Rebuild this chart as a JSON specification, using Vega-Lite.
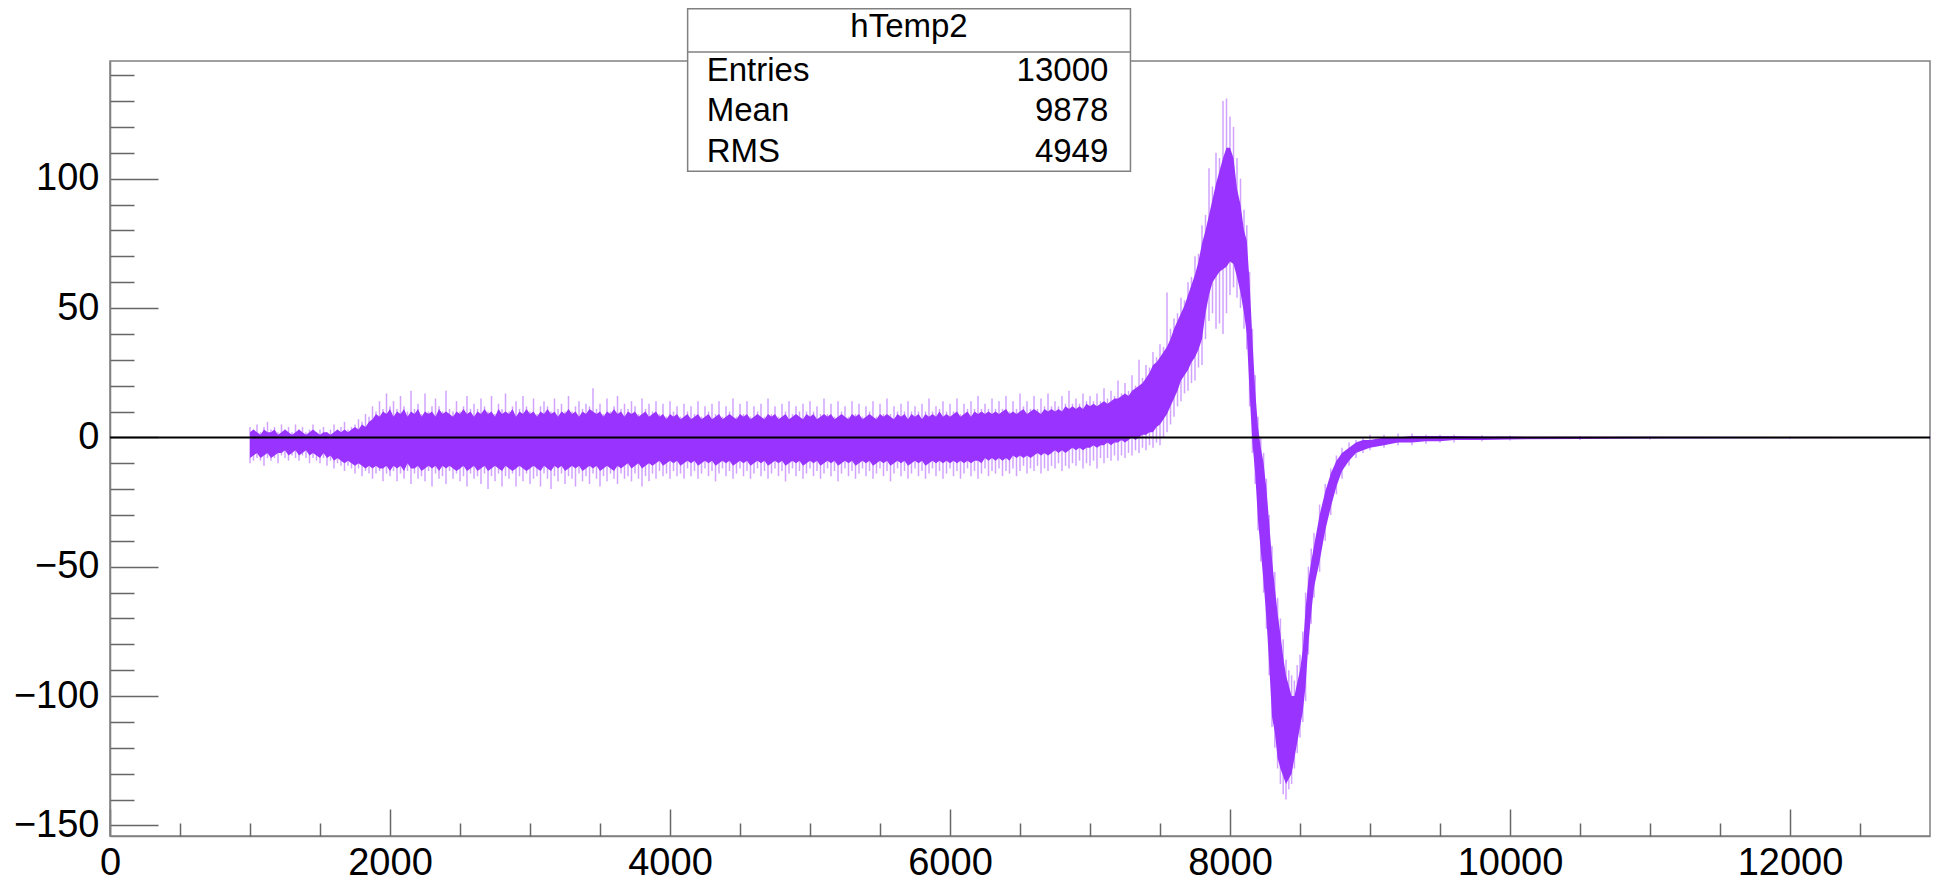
{
  "$schema": "https://vega.github.io/schema/vega-lite/v6.json",
  "width": 1820,
  "height": 775,
  "autosize": {"type": "none"},
  "padding": {"left": 110, "top": 61, "right": 11, "bottom": 46},
  "background": "white",
  "config": {
    "font": "Liberation Sans",
    "view": {"stroke": "#808080", "strokeWidth": 1.5},
    "axis": {"domainColor": "#808080", "domainWidth": 1.5, "tickColor": "#666666", "tickWidth": 1.5, "labelColor": "#000000", "labelFont": "Liberation Sans", "labelFontSize": 38, "grid": false, "labelFlush": false, "labelOverlap": false, "labelBound": false}
  },
  "resolve": {"axis": {"x": "independent", "y": "independent"}},
  "datasets": {
    "hist": [
      {"x":1000,"lo2":-10,"lo":-8,"hi":2,"hi2":4},
      {"x":1025,"lo2":-9,"lo":-7,"hi":3,"hi2":3},
      {"x":1050,"lo2":-8,"lo":-6,"hi":2,"hi2":5},
      {"x":1075,"lo2":-9,"lo":-8,"hi":1,"hi2":2},
      {"x":1100,"lo2":-11,"lo":-7,"hi":3,"hi2":4},
      {"x":1125,"lo2":-8,"lo":-6,"hi":2,"hi2":6},
      {"x":1150,"lo2":-9,"lo":-8,"hi":2,"hi2":3},
      {"x":1175,"lo2":-8,"lo":-7,"hi":3,"hi2":4},
      {"x":1200,"lo2":-10,"lo":-6,"hi":1,"hi2":2},
      {"x":1225,"lo2":-7,"lo":-6,"hi":2,"hi2":5},
      {"x":1250,"lo2":-8,"lo":-5,"hi":3,"hi2":3},
      {"x":1275,"lo2":-9,"lo":-7,"hi":2,"hi2":4},
      {"x":1300,"lo2":-7,"lo":-6,"hi":1,"hi2":2},
      {"x":1325,"lo2":-8,"lo":-5,"hi":2,"hi2":5},
      {"x":1350,"lo2":-9,"lo":-7,"hi":3,"hi2":3},
      {"x":1375,"lo2":-7,"lo":-6,"hi":2,"hi2":4},
      {"x":1400,"lo2":-8,"lo":-5,"hi":1,"hi2":2},
      {"x":1425,"lo2":-10,"lo":-7,"hi":2,"hi2":3},
      {"x":1450,"lo2":-8,"lo":-6,"hi":3,"hi2":5},
      {"x":1475,"lo2":-9,"lo":-7,"hi":2,"hi2":2},
      {"x":1500,"lo2":-10,"lo":-8,"hi":1,"hi2":3},
      {"x":1525,"lo2":-8,"lo":-6,"hi":2,"hi2":4},
      {"x":1550,"lo2":-11,"lo":-8,"hi":2,"hi2":2},
      {"x":1575,"lo2":-9,"lo":-7,"hi":1,"hi2":3},
      {"x":1600,"lo2":-12,"lo":-9,"hi":2,"hi2":5},
      {"x":1625,"lo2":-10,"lo":-8,"hi":3,"hi2":3},
      {"x":1650,"lo2":-11,"lo":-9,"hi":2,"hi2":4},
      {"x":1675,"lo2":-13,"lo":-10,"hi":3,"hi2":6},
      {"x":1700,"lo2":-11,"lo":-9,"hi":2,"hi2":3},
      {"x":1725,"lo2":-12,"lo":-10,"hi":3,"hi2":4},
      {"x":1750,"lo2":-14,"lo":-11,"hi":4,"hi2":5},
      {"x":1775,"lo2":-12,"lo":-10,"hi":3,"hi2":7},
      {"x":1800,"lo2":-15,"lo":-11,"hi":5,"hi2":6},
      {"x":1825,"lo2":-13,"lo":-12,"hi":4,"hi2":9},
      {"x":1850,"lo2":-14,"lo":-11,"hi":6,"hi2":8},
      {"x":1875,"lo2":-16,"lo":-12,"hi":7,"hi2":12},
      {"x":1900,"lo2":-14,"lo":-11,"hi":9,"hi2":10},
      {"x":1925,"lo2":-13,"lo":-12,"hi":8,"hi2":14},
      {"x":1950,"lo2":-17,"lo":-12,"hi":10,"hi2":11},
      {"x":1975,"lo2":-14,"lo":-11,"hi":9,"hi2":17},
      {"x":2000,"lo2":-15,"lo":-13,"hi":11,"hi2":12},
      {"x":2025,"lo2":-13,"lo":-11,"hi":8,"hi2":14},
      {"x":2050,"lo2":-17,"lo":-12,"hi":10,"hi2":11},
      {"x":2075,"lo2":-14,"lo":-11,"hi":9,"hi2":16},
      {"x":2100,"lo2":-16,"lo":-13,"hi":11,"hi2":12},
      {"x":2125,"lo2":-13,"lo":-10,"hi":8,"hi2":10},
      {"x":2150,"lo2":-18,"lo":-12,"hi":10,"hi2":18},
      {"x":2175,"lo2":-14,"lo":-12,"hi":9,"hi2":11},
      {"x":2200,"lo2":-16,"lo":-11,"hi":11,"hi2":13},
      {"x":2225,"lo2":-15,"lo":-13,"hi":8,"hi2":9},
      {"x":2250,"lo2":-17,"lo":-12,"hi":10,"hi2":17},
      {"x":2275,"lo2":-13,"lo":-11,"hi":9,"hi2":10},
      {"x":2300,"lo2":-19,"lo":-12,"hi":10,"hi2":12},
      {"x":2325,"lo2":-14,"lo":-11,"hi":8,"hi2":15},
      {"x":2350,"lo2":-16,"lo":-13,"hi":11,"hi2":12},
      {"x":2375,"lo2":-15,"lo":-11,"hi":9,"hi2":10},
      {"x":2400,"lo2":-18,"lo":-12,"hi":10,"hi2":18},
      {"x":2425,"lo2":-13,"lo":-11,"hi":9,"hi2":11},
      {"x":2450,"lo2":-16,"lo":-12,"hi":8,"hi2":10},
      {"x":2475,"lo2":-14,"lo":-13,"hi":10,"hi2":14},
      {"x":2500,"lo2":-17,"lo":-12,"hi":9,"hi2":10},
      {"x":2525,"lo2":-15,"lo":-11,"hi":11,"hi2":12},
      {"x":2550,"lo2":-19,"lo":-13,"hi":9,"hi2":16},
      {"x":2575,"lo2":-14,"lo":-12,"hi":10,"hi2":11},
      {"x":2600,"lo2":-16,"lo":-11,"hi":8,"hi2":13},
      {"x":2625,"lo2":-15,"lo":-13,"hi":10,"hi2":11},
      {"x":2650,"lo2":-18,"lo":-12,"hi":9,"hi2":15},
      {"x":2675,"lo2":-14,"lo":-11,"hi":11,"hi2":12},
      {"x":2700,"lo2":-20,"lo":-13,"hi":9,"hi2":10},
      {"x":2725,"lo2":-15,"lo":-12,"hi":10,"hi2":16},
      {"x":2750,"lo2":-17,"lo":-11,"hi":8,"hi2":9},
      {"x":2775,"lo2":-14,"lo":-12,"hi":11,"hi2":13},
      {"x":2800,"lo2":-19,"lo":-13,"hi":9,"hi2":11},
      {"x":2825,"lo2":-15,"lo":-11,"hi":10,"hi2":17},
      {"x":2850,"lo2":-16,"lo":-12,"hi":9,"hi2":10},
      {"x":2875,"lo2":-14,"lo":-13,"hi":11,"hi2":12},
      {"x":2900,"lo2":-19,"lo":-12,"hi":8,"hi2":14},
      {"x":2925,"lo2":-15,"lo":-11,"hi":10,"hi2":11},
      {"x":2950,"lo2":-17,"lo":-12,"hi":9,"hi2":16},
      {"x":2975,"lo2":-14,"lo":-13,"hi":11,"hi2":12},
      {"x":3000,"lo2":-18,"lo":-12,"hi":9,"hi2":10},
      {"x":3025,"lo2":-16,"lo":-11,"hi":10,"hi2":15},
      {"x":3050,"lo2":-15,"lo":-12,"hi":8,"hi2":9},
      {"x":3075,"lo2":-19,"lo":-13,"hi":10,"hi2":12},
      {"x":3100,"lo2":-14,"lo":-11,"hi":9,"hi2":14},
      {"x":3125,"lo2":-16,"lo":-12,"hi":11,"hi2":12},
      {"x":3150,"lo2":-20,"lo":-13,"hi":9,"hi2":10},
      {"x":3175,"lo2":-15,"lo":-11,"hi":10,"hi2":15},
      {"x":3200,"lo2":-17,"lo":-12,"hi":8,"hi2":11},
      {"x":3225,"lo2":-14,"lo":-11,"hi":10,"hi2":13},
      {"x":3250,"lo2":-18,"lo":-13,"hi":9,"hi2":10},
      {"x":3275,"lo2":-15,"lo":-12,"hi":11,"hi2":16},
      {"x":3300,"lo2":-16,"lo":-11,"hi":9,"hi2":10},
      {"x":3325,"lo2":-19,"lo":-12,"hi":10,"hi2":12},
      {"x":3350,"lo2":-14,"lo":-11,"hi":8,"hi2":14},
      {"x":3375,"lo2":-17,"lo":-13,"hi":10,"hi2":11},
      {"x":3400,"lo2":-15,"lo":-12,"hi":9,"hi2":13},
      {"x":3425,"lo2":-18,"lo":-11,"hi":11,"hi2":12},
      {"x":3450,"lo2":-14,"lo":-12,"hi":10,"hi2":19},
      {"x":3475,"lo2":-16,"lo":-11,"hi":9,"hi2":11},
      {"x":3500,"lo2":-19,"lo":-13,"hi":10,"hi2":13},
      {"x":3525,"lo2":-15,"lo":-12,"hi":8,"hi2":9},
      {"x":3550,"lo2":-17,"lo":-11,"hi":10,"hi2":15},
      {"x":3575,"lo2":-14,"lo":-12,"hi":9,"hi2":10},
      {"x":3600,"lo2":-16,"lo":-13,"hi":11,"hi2":12},
      {"x":3625,"lo2":-18,"lo":-11,"hi":9,"hi2":16},
      {"x":3650,"lo2":-14,"lo":-12,"hi":10,"hi2":11},
      {"x":3675,"lo2":-16,"lo":-11,"hi":8,"hi2":13},
      {"x":3700,"lo2":-15,"lo":-10,"hi":10,"hi2":11},
      {"x":3725,"lo2":-17,"lo":-12,"hi":9,"hi2":14},
      {"x":3750,"lo2":-14,"lo":-11,"hi":10,"hi2":12},
      {"x":3775,"lo2":-16,"lo":-10,"hi":8,"hi2":9},
      {"x":3800,"lo2":-19,"lo":-12,"hi":9,"hi2":15},
      {"x":3825,"lo2":-15,"lo":-11,"hi":10,"hi2":11},
      {"x":3850,"lo2":-17,"lo":-10,"hi":8,"hi2":13},
      {"x":3875,"lo2":-14,"lo":-11,"hi":9,"hi2":10},
      {"x":3900,"lo2":-16,"lo":-10,"hi":10,"hi2":14},
      {"x":3925,"lo2":-13,"lo":-9,"hi":8,"hi2":9},
      {"x":3950,"lo2":-15,"lo":-11,"hi":9,"hi2":13},
      {"x":3975,"lo2":-14,"lo":-10,"hi":7,"hi2":8},
      {"x":4000,"lo2":-16,"lo":-9,"hi":9,"hi2":14},
      {"x":4025,"lo2":-13,"lo":-10,"hi":8,"hi2":10},
      {"x":4050,"lo2":-15,"lo":-9,"hi":9,"hi2":12},
      {"x":4075,"lo2":-14,"lo":-11,"hi":7,"hi2":8},
      {"x":4100,"lo2":-16,"lo":-10,"hi":8,"hi2":13},
      {"x":4125,"lo2":-12,"lo":-9,"hi":9,"hi2":10},
      {"x":4150,"lo2":-15,"lo":-10,"hi":7,"hi2":12},
      {"x":4175,"lo2":-13,"lo":-9,"hi":8,"hi2":9},
      {"x":4200,"lo2":-16,"lo":-11,"hi":9,"hi2":14},
      {"x":4225,"lo2":-14,"lo":-10,"hi":7,"hi2":8},
      {"x":4250,"lo2":-12,"lo":-9,"hi":8,"hi2":12},
      {"x":4275,"lo2":-15,"lo":-10,"hi":9,"hi2":10},
      {"x":4300,"lo2":-13,"lo":-9,"hi":7,"hi2":13},
      {"x":4325,"lo2":-17,"lo":-11,"hi":8,"hi2":9},
      {"x":4350,"lo2":-14,"lo":-10,"hi":9,"hi2":14},
      {"x":4375,"lo2":-12,"lo":-9,"hi":7,"hi2":8},
      {"x":4400,"lo2":-15,"lo":-10,"hi":8,"hi2":12},
      {"x":4425,"lo2":-13,"lo":-9,"hi":9,"hi2":10},
      {"x":4450,"lo2":-16,"lo":-11,"hi":8,"hi2":15},
      {"x":4475,"lo2":-14,"lo":-10,"hi":7,"hi2":8},
      {"x":4500,"lo2":-12,"lo":-9,"hi":9,"hi2":13},
      {"x":4525,"lo2":-15,"lo":-10,"hi":8,"hi2":9},
      {"x":4550,"lo2":-13,"lo":-9,"hi":9,"hi2":14},
      {"x":4575,"lo2":-16,"lo":-11,"hi":7,"hi2":8},
      {"x":4600,"lo2":-14,"lo":-10,"hi":8,"hi2":12},
      {"x":4625,"lo2":-12,"lo":-9,"hi":9,"hi2":10},
      {"x":4650,"lo2":-15,"lo":-10,"hi":8,"hi2":13},
      {"x":4675,"lo2":-13,"lo":-9,"hi":7,"hi2":8},
      {"x":4700,"lo2":-16,"lo":-11,"hi":9,"hi2":15},
      {"x":4725,"lo2":-14,"lo":-10,"hi":8,"hi2":9},
      {"x":4750,"lo2":-12,"lo":-9,"hi":9,"hi2":12},
      {"x":4775,"lo2":-15,"lo":-10,"hi":7,"hi2":8},
      {"x":4800,"lo2":-13,"lo":-9,"hi":8,"hi2":13},
      {"x":4825,"lo2":-17,"lo":-11,"hi":9,"hi2":10},
      {"x":4850,"lo2":-14,"lo":-10,"hi":7,"hi2":14},
      {"x":4875,"lo2":-12,"lo":-9,"hi":8,"hi2":9},
      {"x":4900,"lo2":-15,"lo":-10,"hi":9,"hi2":12},
      {"x":4925,"lo2":-13,"lo":-9,"hi":8,"hi2":10},
      {"x":4950,"lo2":-16,"lo":-11,"hi":7,"hi2":13},
      {"x":4975,"lo2":-14,"lo":-10,"hi":9,"hi2":10},
      {"x":5000,"lo2":-12,"lo":-9,"hi":8,"hi2":14},
      {"x":5025,"lo2":-15,"lo":-10,"hi":9,"hi2":10},
      {"x":5050,"lo2":-13,"lo":-9,"hi":7,"hi2":12},
      {"x":5075,"lo2":-16,"lo":-11,"hi":8,"hi2":9},
      {"x":5100,"lo2":-14,"lo":-10,"hi":9,"hi2":15},
      {"x":5125,"lo2":-12,"lo":-9,"hi":8,"hi2":9},
      {"x":5150,"lo2":-15,"lo":-10,"hi":9,"hi2":13},
      {"x":5175,"lo2":-13,"lo":-9,"hi":7,"hi2":8},
      {"x":5200,"lo2":-17,"lo":-11,"hi":8,"hi2":14},
      {"x":5225,"lo2":-14,"lo":-10,"hi":9,"hi2":10},
      {"x":5250,"lo2":-12,"lo":-9,"hi":8,"hi2":12},
      {"x":5275,"lo2":-15,"lo":-10,"hi":7,"hi2":8},
      {"x":5300,"lo2":-13,"lo":-9,"hi":9,"hi2":14},
      {"x":5325,"lo2":-16,"lo":-11,"hi":8,"hi2":9},
      {"x":5350,"lo2":-14,"lo":-10,"hi":9,"hi2":13},
      {"x":5375,"lo2":-12,"lo":-9,"hi":7,"hi2":8},
      {"x":5400,"lo2":-15,"lo":-10,"hi":8,"hi2":12},
      {"x":5425,"lo2":-13,"lo":-9,"hi":9,"hi2":10},
      {"x":5450,"lo2":-16,"lo":-11,"hi":8,"hi2":14},
      {"x":5475,"lo2":-14,"lo":-10,"hi":7,"hi2":8},
      {"x":5500,"lo2":-12,"lo":-9,"hi":9,"hi2":13},
      {"x":5525,"lo2":-15,"lo":-10,"hi":8,"hi2":9},
      {"x":5550,"lo2":-13,"lo":-9,"hi":9,"hi2":15},
      {"x":5575,"lo2":-17,"lo":-11,"hi":8,"hi2":9},
      {"x":5600,"lo2":-14,"lo":-10,"hi":7,"hi2":12},
      {"x":5625,"lo2":-12,"lo":-9,"hi":9,"hi2":10},
      {"x":5650,"lo2":-15,"lo":-10,"hi":8,"hi2":13},
      {"x":5675,"lo2":-13,"lo":-9,"hi":9,"hi2":10},
      {"x":5700,"lo2":-16,"lo":-11,"hi":7,"hi2":14},
      {"x":5725,"lo2":-14,"lo":-10,"hi":9,"hi2":10},
      {"x":5750,"lo2":-12,"lo":-9,"hi":8,"hi2":12},
      {"x":5775,"lo2":-15,"lo":-10,"hi":9,"hi2":10},
      {"x":5800,"lo2":-13,"lo":-9,"hi":7,"hi2":13},
      {"x":5825,"lo2":-16,"lo":-11,"hi":9,"hi2":10},
      {"x":5850,"lo2":-14,"lo":-10,"hi":8,"hi2":15},
      {"x":5875,"lo2":-12,"lo":-9,"hi":9,"hi2":10},
      {"x":5900,"lo2":-15,"lo":-10,"hi":8,"hi2":12},
      {"x":5925,"lo2":-13,"lo":-9,"hi":10,"hi2":11},
      {"x":5950,"lo2":-16,"lo":-10,"hi":8,"hi2":14},
      {"x":5975,"lo2":-14,"lo":-9,"hi":9,"hi2":10},
      {"x":6000,"lo2":-12,"lo":-10,"hi":8,"hi2":13},
      {"x":6025,"lo2":-15,"lo":-9,"hi":9,"hi2":10},
      {"x":6050,"lo2":-13,"lo":-10,"hi":10,"hi2":15},
      {"x":6075,"lo2":-16,"lo":-9,"hi":8,"hi2":9},
      {"x":6100,"lo2":-14,"lo":-10,"hi":9,"hi2":13},
      {"x":6125,"lo2":-12,"lo":-9,"hi":10,"hi2":11},
      {"x":6150,"lo2":-15,"lo":-10,"hi":8,"hi2":14},
      {"x":6175,"lo2":-13,"lo":-9,"hi":10,"hi2":11},
      {"x":6200,"lo2":-16,"lo":-9,"hi":9,"hi2":16},
      {"x":6225,"lo2":-14,"lo":-10,"hi":10,"hi2":11},
      {"x":6250,"lo2":-12,"lo":-8,"hi":9,"hi2":13},
      {"x":6275,"lo2":-15,"lo":-9,"hi":10,"hi2":11},
      {"x":6300,"lo2":-13,"lo":-8,"hi":9,"hi2":15},
      {"x":6325,"lo2":-14,"lo":-9,"hi":10,"hi2":11},
      {"x":6350,"lo2":-12,"lo":-8,"hi":9,"hi2":14},
      {"x":6375,"lo2":-15,"lo":-9,"hi":10,"hi2":11},
      {"x":6400,"lo2":-13,"lo":-8,"hi":11,"hi2":16},
      {"x":6425,"lo2":-14,"lo":-9,"hi":9,"hi2":10},
      {"x":6450,"lo2":-12,"lo":-7,"hi":10,"hi2":14},
      {"x":6475,"lo2":-15,"lo":-8,"hi":9,"hi2":11},
      {"x":6500,"lo2":-13,"lo":-7,"hi":10,"hi2":17},
      {"x":6525,"lo2":-11,"lo":-8,"hi":11,"hi2":12},
      {"x":6550,"lo2":-14,"lo":-7,"hi":9,"hi2":14},
      {"x":6575,"lo2":-12,"lo":-8,"hi":10,"hi2":11},
      {"x":6600,"lo2":-13,"lo":-7,"hi":11,"hi2":16},
      {"x":6625,"lo2":-11,"lo":-6,"hi":10,"hi2":11},
      {"x":6650,"lo2":-14,"lo":-7,"hi":9,"hi2":15},
      {"x":6675,"lo2":-12,"lo":-6,"hi":11,"hi2":12},
      {"x":6700,"lo2":-13,"lo":-7,"hi":10,"hi2":17},
      {"x":6725,"lo2":-11,"lo":-6,"hi":11,"hi2":12},
      {"x":6750,"lo2":-12,"lo":-5,"hi":10,"hi2":14},
      {"x":6775,"lo2":-10,"lo":-6,"hi":11,"hi2":12},
      {"x":6800,"lo2":-13,"lo":-5,"hi":10,"hi2":16},
      {"x":6825,"lo2":-11,"lo":-6,"hi":12,"hi2":13},
      {"x":6850,"lo2":-12,"lo":-5,"hi":11,"hi2":18},
      {"x":6875,"lo2":-10,"lo":-4,"hi":12,"hi2":13},
      {"x":6900,"lo2":-11,"lo":-5,"hi":11,"hi2":15},
      {"x":6925,"lo2":-9,"lo":-4,"hi":12,"hi2":13},
      {"x":6950,"lo2":-12,"lo":-5,"hi":11,"hi2":17},
      {"x":6975,"lo2":-10,"lo":-4,"hi":13,"hi2":14},
      {"x":7000,"lo2":-11,"lo":-4,"hi":12,"hi2":16},
      {"x":7025,"lo2":-9,"lo":-3,"hi":13,"hi2":14},
      {"x":7050,"lo2":-12,"lo":-4,"hi":12,"hi2":17},
      {"x":7075,"lo2":-8,"lo":-3,"hi":13,"hi2":14},
      {"x":7100,"lo2":-10,"lo":-3,"hi":14,"hi2":19},
      {"x":7125,"lo2":-8,"lo":-2,"hi":13,"hi2":15},
      {"x":7150,"lo2":-9,"lo":-3,"hi":14,"hi2":18},
      {"x":7175,"lo2":-7,"lo":-2,"hi":15,"hi2":16},
      {"x":7200,"lo2":-9,"lo":-2,"hi":15,"hi2":22},
      {"x":7225,"lo2":-7,"lo":-1,"hi":16,"hi2":17},
      {"x":7250,"lo2":-8,"lo":-2,"hi":17,"hi2":21},
      {"x":7275,"lo2":-6,"lo":-1,"hi":16,"hi2":18},
      {"x":7300,"lo2":-7,"lo":0,"hi":18,"hi2":24},
      {"x":7325,"lo2":-5,"lo":-1,"hi":19,"hi2":20},
      {"x":7350,"lo2":-6,"lo":0,"hi":20,"hi2":30},
      {"x":7375,"lo2":-4,"lo":1,"hi":21,"hi2":23},
      {"x":7400,"lo2":-5,"lo":1,"hi":23,"hi2":28},
      {"x":7425,"lo2":-3,"lo":2,"hi":25,"hi2":27},
      {"x":7450,"lo2":-4,"lo":2,"hi":28,"hi2":33},
      {"x":7475,"lo2":-2,"lo":4,"hi":29,"hi2":31},
      {"x":7500,"lo2":-3,"lo":5,"hi":31,"hi2":36},
      {"x":7525,"lo2":0,"lo":7,"hi":33,"hi2":35},
      {"x":7550,"lo2":2,"lo":9,"hi":35,"hi2":56},
      {"x":7575,"lo2":5,"lo":12,"hi":38,"hi2":42},
      {"x":7600,"lo2":8,"lo":15,"hi":42,"hi2":46},
      {"x":7625,"lo2":12,"lo":18,"hi":45,"hi2":48},
      {"x":7650,"lo2":14,"lo":22,"hi":48,"hi2":54},
      {"x":7675,"lo2":17,"lo":24,"hi":51,"hi2":53},
      {"x":7700,"lo2":18,"lo":26,"hi":55,"hi2":60},
      {"x":7725,"lo2":21,"lo":29,"hi":59,"hi2":62},
      {"x":7750,"lo2":22,"lo":31,"hi":63,"hi2":70},
      {"x":7775,"lo2":27,"lo":34,"hi":68,"hi2":71},
      {"x":7800,"lo2":28,"lo":38,"hi":75,"hi2":82},
      {"x":7825,"lo2":38,"lo":48,"hi":80,"hi2":86},
      {"x":7850,"lo2":45,"lo":55,"hi":86,"hi2":104},
      {"x":7875,"lo2":48,"lo":60,"hi":92,"hi2":97},
      {"x":7900,"lo2":42,"lo":62,"hi":98,"hi2":110},
      {"x":7925,"lo2":44,"lo":64,"hi":103,"hi2":108},
      {"x":7950,"lo2":40,"lo":65,"hi":108,"hi2":130},
      {"x":7975,"lo2":48,"lo":66,"hi":112,"hi2":131},
      {"x":8000,"lo2":55,"lo":68,"hi":112,"hi2":124},
      {"x":8025,"lo2":58,"lo":67,"hi":108,"hi2":120},
      {"x":8050,"lo2":54,"lo":62,"hi":96,"hi2":108},
      {"x":8075,"lo2":50,"lo":56,"hi":90,"hi2":100},
      {"x":8100,"lo2":42,"lo":48,"hi":80,"hi2":88},
      {"x":8120,"lo2":34,"lo":40,"hi":76,"hi2":82},
      {"x":8140,"lo2":12,"lo":17,"hi":60,"hi2":64},
      {"x":8160,"lo2":-6,"lo":-2,"hi":38,"hi2":42},
      {"x":8180,"lo2":-18,"lo":-14,"hi":18,"hi2":24},
      {"x":8200,"lo2":-36,"lo":-32,"hi":4,"hi2":8},
      {"x":8220,"lo2":-48,"lo":-44,"hi":-4,"hi2":0},
      {"x":8240,"lo2":-60,"lo":-56,"hi":-10,"hi2":-6},
      {"x":8260,"lo2":-74,"lo":-70,"hi":-20,"hi2":-16},
      {"x":8280,"lo2":-92,"lo":-88,"hi":-33,"hi2":-30},
      {"x":8300,"lo2":-112,"lo":-108,"hi":-47,"hi2":-42},
      {"x":8320,"lo2":-120,"lo":-114,"hi":-58,"hi2":-52},
      {"x":8340,"lo2":-128,"lo":-124,"hi":-68,"hi2":-62},
      {"x":8360,"lo2":-134,"lo":-128,"hi":-76,"hi2":-70},
      {"x":8380,"lo2":-138,"lo":-131,"hi":-85,"hi2":-78},
      {"x":8400,"lo2":-140,"lo":-134,"hi":-92,"hi2":-86},
      {"x":8420,"lo2":-136,"lo":-132,"hi":-96,"hi2":-90},
      {"x":8440,"lo2":-134,"lo":-130,"hi":-100,"hi2":-92},
      {"x":8460,"lo2":-128,"lo":-124,"hi":-100,"hi2":-94},
      {"x":8480,"lo2":-122,"lo":-118,"hi":-95,"hi2":-88},
      {"x":8500,"lo2":-116,"lo":-112,"hi":-90,"hi2":-84},
      {"x":8520,"lo2":-110,"lo":-106,"hi":-82,"hi2":-75},
      {"x":8540,"lo2":-102,"lo":-96,"hi":-66,"hi2":-60},
      {"x":8560,"lo2":-84,"lo":-80,"hi":-55,"hi2":-50},
      {"x":8580,"lo2":-72,"lo":-68,"hi":-48,"hi2":-43},
      {"x":8600,"lo2":-62,"lo":-58,"hi":-42,"hi2":-37},
      {"x":8640,"lo2":-52,"lo":-48,"hi":-30,"hi2":-26},
      {"x":8680,"lo2":-40,"lo":-36,"hi":-21,"hi2":-18},
      {"x":8720,"lo2":-30,"lo":-27,"hi":-14,"hi2":-12},
      {"x":8760,"lo2":-22,"lo":-19,"hi":-9,"hi2":-7},
      {"x":8800,"lo2":-16,"lo":-13,"hi":-6,"hi2":-4},
      {"x":8850,"lo2":-11,"lo":-9,"hi":-4,"hi2":-2},
      {"x":8900,"lo2":-8,"lo":-6,"hi":-2,"hi2":-1},
      {"x":8950,"lo2":-6,"lo":-5,"hi":-1,"hi2":0},
      {"x":9000,"lo2":-5,"lo":-4,"hi":-1,"hi2":1},
      {"x":9100,"lo2":-4,"lo":-3,"hi":0,"hi2":1},
      {"x":9200,"lo2":-3,"lo":-2,"hi":0,"hi2":1.5},
      {"x":9300,"lo2":-3,"lo":-2,"hi":0.5,"hi2":1.5},
      {"x":9400,"lo2":-2.5,"lo":-1.5,"hi":0.5,"hi2":1},
      {"x":9500,"lo2":-2,"lo":-1.5,"hi":0.5,"hi2":1},
      {"x":9600,"lo2":-2,"lo":-1,"hi":0.5,"hi2":1},
      {"x":9800,"lo2":-1.5,"lo":-1,"hi":0.3,"hi2":0.8},
      {"x":10000,"lo2":-1.2,"lo":-0.8,"hi":0.3,"hi2":0.6},
      {"x":10500,"lo2":-1,"lo":-0.6,"hi":0.2,"hi2":0.4},
      {"x":11000,"lo2":-0.8,"lo":-0.4,"hi":0.2,"hi2":0.3},
      {"x":12000,"lo2":-0.6,"lo":-0.3,"hi":0.1,"hi2":0.2},
      {"x":13000,"lo2":-0.4,"lo":-0.2,"hi":0.1,"hi2":0.2}
    ]
  },
  "layer": [
    {
      "data": {"name": "hist"},
      "mark": {"type": "rule", "color": "#9933ff", "opacity": 0.45, "strokeWidth": 1.5},
      "encoding": {
        "x": {"field": "x", "type": "quantitative", "scale": {"domain": [0, 13000], "nice": false, "zero": false},
              "axis": {"orient": "bottom", "title": null, "values": [0, 2000, 4000, 6000, 8000, 10000, 12000], "tickSize": -27, "labelPadding": 35, "format": "d"}},
        "y": {"field": "lo2", "type": "quantitative", "scale": {"domain": [-154.1, 145.5], "nice": false, "zero": false},
              "axis": {"orient": "left", "title": null, "values": [-150, -100, -50, 0, 50, 100], "tickSize": -48, "labelPadding": 59}},
        "y2": {"field": "hi2"}
      }
    },
    {
      "data": {"name": "hist"},
      "mark": {"type": "area", "color": "#9933ff", "opacity": 1},
      "encoding": {
        "x": {"field": "x", "type": "quantitative", "scale": {"domain": [0, 13000], "nice": false, "zero": false},
              "axis": {"orient": "bottom", "title": null, "domain": false, "labels": false, "tickSize": -13,
                       "values": [500, 1000, 1500, 2500, 3000, 3500, 4500, 5000, 5500, 6500, 7000, 7500, 8500, 9000, 9500, 10500, 11000, 11500, 12500]}},
        "y": {"field": "lo", "type": "quantitative", "scale": {"domain": [-154.1, 145.5], "nice": false, "zero": false},
              "axis": {"orient": "left", "title": null, "domain": false, "labels": false, "tickSize": -24,
                       "values": [-140, -130, -120, -110, -90, -80, -70, -60, -40, -30, -20, -10, 10, 20, 30, 40, 60, 70, 80, 90, 110, 120, 130, 140]}},
        "y2": {"field": "hi"}
      }
    },
    {
      "data": {"values": [{}]},
      "mark": {"type": "rule", "color": "#000000", "strokeWidth": 2},
      "encoding": {
        "y": {"datum": 0, "type": "quantitative", "scale": {"domain": [-154.1, 145.5], "nice": false, "zero": false}, "axis": null}
      }
    },
    {
      "data": {"values": [{}]},
      "mark": {"type": "rect", "fill": "#ffffff", "stroke": "#808080", "strokeWidth": 1.5},
      "encoding": {
        "x": {"datum": 4126, "type": "quantitative", "scale": {"domain": [0, 13000], "nice": false, "zero": false}, "axis": null},
        "x2": {"datum": 7289},
        "y": {"datum": 165.7, "type": "quantitative", "scale": {"domain": [-154.1, 145.5], "nice": false, "zero": false}, "axis": null},
        "y2": {"datum": 102.9}
      }
    },
    {
      "data": {"values": [{}]},
      "mark": {"type": "rule", "color": "#808080", "strokeWidth": 1.5},
      "encoding": {
        "x": {"datum": 4126, "type": "quantitative", "scale": {"domain": [0, 13000], "nice": false, "zero": false}, "axis": null},
        "x2": {"datum": 7289},
        "y": {"datum": 149.0, "type": "quantitative", "scale": {"domain": [-154.1, 145.5], "nice": false, "zero": false}, "axis": null}
      }
    },
    {
      "data": {"values": [{}]},
      "mark": {"type": "text", "font": "Liberation Sans", "fontSize": 33, "color": "#000000", "align": "center", "baseline": "alphabetic", "text": "hTemp2"},
      "encoding": {
        "x": {"datum": 5707, "type": "quantitative", "scale": {"domain": [0, 13000], "nice": false, "zero": false}, "axis": null},
        "y": {"datum": 154.7, "type": "quantitative", "scale": {"domain": [-154.1, 145.5], "nice": false, "zero": false}, "axis": null}
      }
    },
    {
      "data": {"values": [{}]},
      "mark": {"type": "text", "font": "Liberation Sans", "fontSize": 33, "color": "#000000", "align": "left", "baseline": "alphabetic", "text": "Entries"},
      "encoding": {
        "x": {"datum": 4262, "type": "quantitative", "scale": {"domain": [0, 13000], "nice": false, "zero": false}, "axis": null},
        "y": {"datum": 137.6, "type": "quantitative", "scale": {"domain": [-154.1, 145.5], "nice": false, "zero": false}, "axis": null}
      }
    },
    {
      "data": {"values": [{}]},
      "mark": {"type": "text", "font": "Liberation Sans", "fontSize": 33, "color": "#000000", "align": "left", "baseline": "alphabetic", "text": "Mean"},
      "encoding": {
        "x": {"datum": 4262, "type": "quantitative", "scale": {"domain": [0, 13000], "nice": false, "zero": false}, "axis": null},
        "y": {"datum": 122.3, "type": "quantitative", "scale": {"domain": [-154.1, 145.5], "nice": false, "zero": false}, "axis": null}
      }
    },
    {
      "data": {"values": [{}]},
      "mark": {"type": "text", "font": "Liberation Sans", "fontSize": 33, "color": "#000000", "align": "left", "baseline": "alphabetic", "text": "RMS"},
      "encoding": {
        "x": {"datum": 4262, "type": "quantitative", "scale": {"domain": [0, 13000], "nice": false, "zero": false}, "axis": null},
        "y": {"datum": 106.5, "type": "quantitative", "scale": {"domain": [-154.1, 145.5], "nice": false, "zero": false}, "axis": null}
      }
    },
    {
      "data": {"values": [{}]},
      "mark": {"type": "text", "font": "Liberation Sans", "fontSize": 33, "color": "#000000", "align": "right", "baseline": "alphabetic", "text": "13000"},
      "encoding": {
        "x": {"datum": 7131, "type": "quantitative", "scale": {"domain": [0, 13000], "nice": false, "zero": false}, "axis": null},
        "y": {"datum": 137.6, "type": "quantitative", "scale": {"domain": [-154.1, 145.5], "nice": false, "zero": false}, "axis": null}
      }
    },
    {
      "data": {"values": [{}]},
      "mark": {"type": "text", "font": "Liberation Sans", "fontSize": 33, "color": "#000000", "align": "right", "baseline": "alphabetic", "text": "9878"},
      "encoding": {
        "x": {"datum": 7131, "type": "quantitative", "scale": {"domain": [0, 13000], "nice": false, "zero": false}, "axis": null},
        "y": {"datum": 122.3, "type": "quantitative", "scale": {"domain": [-154.1, 145.5], "nice": false, "zero": false}, "axis": null}
      }
    },
    {
      "data": {"values": [{}]},
      "mark": {"type": "text", "font": "Liberation Sans", "fontSize": 33, "color": "#000000", "align": "right", "baseline": "alphabetic", "text": "4949"},
      "encoding": {
        "x": {"datum": 7131, "type": "quantitative", "scale": {"domain": [0, 13000], "nice": false, "zero": false}, "axis": null},
        "y": {"datum": 106.5, "type": "quantitative", "scale": {"domain": [-154.1, 145.5], "nice": false, "zero": false}, "axis": null}
      }
    }
  ]
}
